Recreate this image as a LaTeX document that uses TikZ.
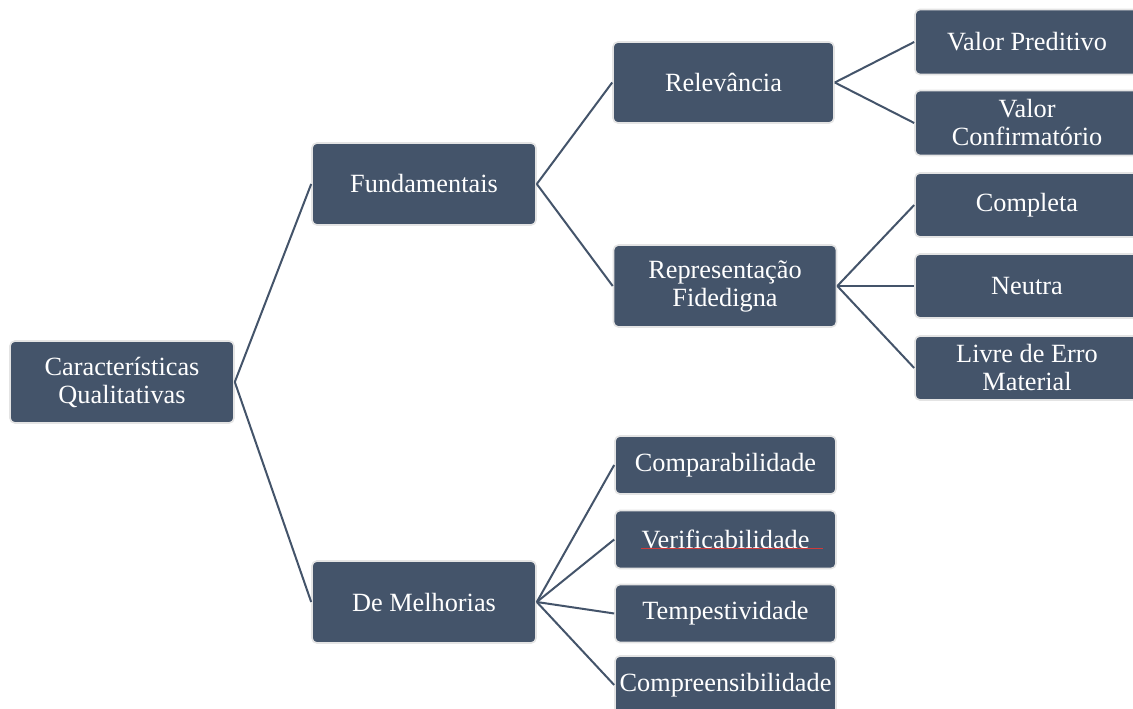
\documentclass[tikz,border=0pt]{standalone}
\usepackage{fontspec}
\setmainfont{Liberation Serif}
\definecolor{boxfill}{HTML}{44546A}
\definecolor{boxedge}{HTML}{E4E4E4}
\definecolor{spellred}{HTML}{D03A3A}
\begin{document}
\begin{tikzpicture}[x=1pt,y=-1pt,
  box/.style={draw=boxedge, line width=1.6pt, fill=boxfill, rounded corners=5pt,
    text=white, align=center, inner sep=0pt,
    font=\fontsize{26.3}{28}\selectfont},
  link/.style={draw=boxfill, line width=2pt}]
\clip (0,0) rectangle (1133,709);
\fill[white] (0,0) rectangle (1133,709);
% level 0
\node[box, minimum width=224pt, minimum height=82pt] (root) at (122,382) {Características\\Qualitativas};
% level 1
\node[box, minimum width=224pt, minimum height=82pt] (fund) at (424,184) {Fundamentais};
\node[box, minimum width=224pt, minimum height=82pt] (melh) at (424,602) {De Melhorias};
% level 2
\node[box, minimum width=221pt, minimum height=81pt] (rel) at (723.5,82.5) {Relevância};
\node[box, minimum width=223pt, minimum height=82pt] (rep) at (725,286) {Representação\\Fidedigna};
\node[box, minimum width=221pt, minimum height=58pt] (comp) at (725.5,465) {Comparabilidade};
\node[box, minimum width=221pt, minimum height=58pt] (veri) at (725.5,539.5) {Verificabilidade};
\node[box, minimum width=221pt, minimum height=58pt] (temp) at (725.5,613.5) {Tempestividade};
\node[box, minimum width=221pt, minimum height=58pt] (compr) at (725.5,685) {Compreensibilidade};
% level 3
\node[box, minimum width=224pt, minimum height=65pt] (vp) at (1027,42) {Valor Preditivo};
\node[box, minimum width=224pt, minimum height=65pt] (vc) at (1027,123) {Valor\\Confirmatório};
\node[box, minimum width=224pt, minimum height=64pt] (cpl) at (1027,205) {Completa};
\node[box, minimum width=224pt, minimum height=64pt] (neu) at (1027,286) {Neutra};
\node[box, minimum width=224pt, minimum height=64pt] (liv) at (1027,368) {Livre de Erro\\Material};
% spell-check underline
\draw[spellred, line width=1pt] (641,548.5) -- (823,548.5);
% connectors
\draw[link] (root.east) -- (fund.west);
\draw[link] (root.east) -- (melh.west);
\draw[link] (fund.east) -- (rel.west);
\draw[link] (fund.east) -- (rep.west);
\draw[link] (rel.east) -- (vp.west);
\draw[link] (rel.east) -- (vc.west);
\draw[link] (rep.east) -- (cpl.west);
\draw[link] (rep.east) -- (neu.west);
\draw[link] (rep.east) -- (liv.west);
\draw[link] (melh.east) -- (comp.west);
\draw[link] (melh.east) -- (veri.west);
\draw[link] (melh.east) -- (temp.west);
\draw[link] (melh.east) -- (compr.west);
\end{tikzpicture}
\end{document}
